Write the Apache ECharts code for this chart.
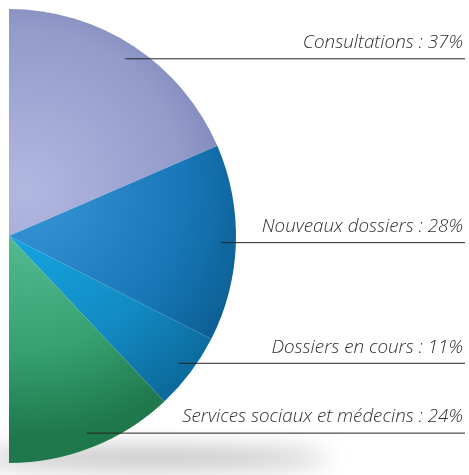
<!DOCTYPE html>
<html><head><meta charset="utf-8">
<script src="https://cdn.jsdelivr.net/npm/echarts@6/dist/echarts.min.js"></script>
<style>html,body{margin:0;padding:0;background:#fff;}#c{position:absolute;left:0;top:0;width:469px;height:475px;}</style>
</head><body><div id="c"></div>
<script>
const categories = ['Consultations', 'Nouveaux dossiers', 'Dossiers en cours', 'Services sociaux et médecins'];
const values = [37, 28, 11, 24];
const sliceStops = [
  ['#b1b8e0', '#939bcb', '#7079ab'],
  ['#3a96d8', '#1877b7', '#0b5c8f'],
  ['#14ade8', '#138ac3', '#0c6a9c'],
  ['#5fc49e', '#37a172', '#1e784b']
];

const CX = 9, CY = 236, R = 227;
const W = 469;
const chart = echarts.init(document.getElementById('c'), null, {renderer: 'canvas'});
function grad(stops) {
  return {type: 'radial', x: 25, y: 190, r: 290, global: true,
    colorStops: [{offset: 0, color: stops[0]}, {offset: 0.55, color: stops[1]}, {offset: 0.85, color: stops[2]}, {offset: 1, color: stops[2]}]};
}
const total = values.reduce((a, b) => a + b, 0);
function buildData(colored) {
  const d = categories.map((n, i) => ({name: n, value: values[i],
    itemStyle: {color: colored ? grad(sliceStops[i]) : 'rgba(0,0,0,0)'}}));
  // hidden left half: the visible half-disc holds 100 %
  d.push({name: '', value: total, itemStyle: {color: 'rgba(0,0,0,0)'}, label: {show: false}, labelLine: {show: false}});
  return d;
}
const base = {type: 'pie', center: [CX, CY], radius: [0, R], startAngle: 90, clockwise: true,
  silent: true, avoidLabelOverlap: false, itemStyle: {borderWidth: 0}};

chart.setOption({
  backgroundColor: '#fff',
  animation: false,
  graphic: [{
    type: 'ellipse', z: 0, silent: true,
    shape: {cx: 150, cy: 458 + 2000, rx: 180, ry: 7},
    style: {fill: '#000', shadowColor: 'rgba(0,0,0,0.38)', shadowBlur: 24, shadowOffsetY: -2000}
  }],
  series: [
    Object.assign({}, base, {z: 5, data: buildData(true), label: {show: false}, labelLine: {show: false}}),
    Object.assign({}, base, {
      z: 8,
      data: buildData(false),
      label: {
        show: true, position: 'outside', formatter: '{b} : {c}%',
        fontFamily: 'Open Sans', fontStyle: 'italic', fontWeight: 300, fontSize: 18.8, color: '#303030'
      },
      labelLine: {show: true, showAbove: true, length: 10, length2: 10, lineStyle: {color: '#222', width: 1}},
      labelLayout: function (p) {
        const pts = p.labelLinePoints;
        if (!pts) return {};
        const p0 = pts[0];
        const dx = p0[0] - CX, dy = p0[1] - CY;
        const d = Math.sqrt(dx * dx + dy * dy);
        const sx = CX + dx / d * 212, sy = CY + dy / d * 212;
        return {
          x: W - 6, y: sy - 16, align: 'right', verticalAlign: 'middle',
          labelLinePoints: [[sx, sy], [sx + 1, sy], [W - 4, sy]]
        };
      }
    })
  ]
});
</script></body></html>
